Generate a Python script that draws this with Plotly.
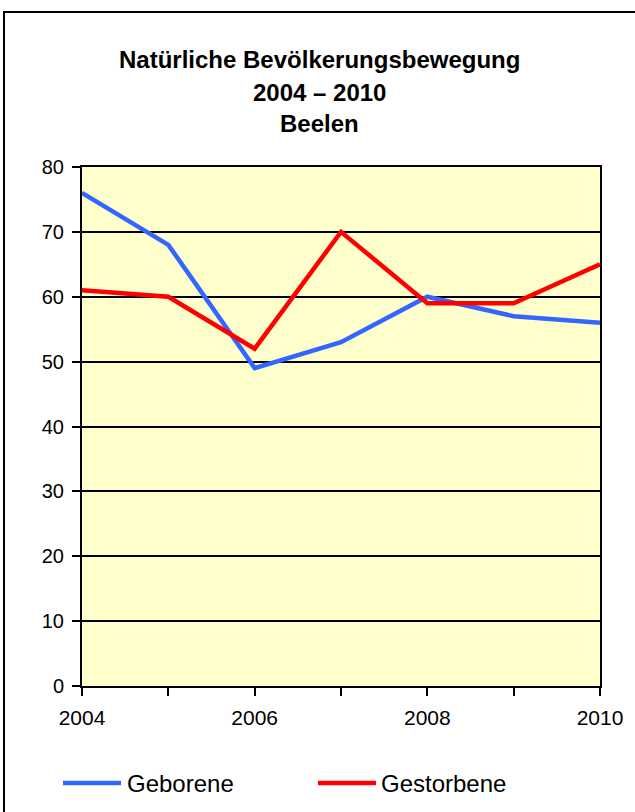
import plotly.graph_objects as go

years = [2004, 2005, 2006, 2007, 2008, 2009, 2010]
geborene = [76, 68, 49, 53, 60, 57, 56]
gestorbene = [61, 60, 52, 70, 59, 59, 65]
x_tick_labels = ["2004", "", "2006", "", "2008", "", "2010"]
y_ticks = [0, 10, 20, 30, 40, 50, 60, 70, 80]
series_names = ["Geborene", "Gestorbene"]
series_colors = ["#3366FF", "#FF0000"]

W, H = 635, 812
L, R, T, B = 82, 600, 167, 686  # plot area in pixels

def px(x):
    return (x - L) / (R - L)

def py(y):
    return (B - y) / (B - T)

fig = go.Figure()
for name, vals, col in zip(series_names, [geborene, gestorbene], series_colors):
    fig.add_trace(go.Scatter(x=years, y=vals, mode="lines", name=name,
                             line=dict(color=col, width=4.5), showlegend=False))

font = "Liberation Sans, Arial, sans-serif"

shapes = [
    # outer chart border
    dict(type="rect", xref="paper", yref="paper", x0=px(4), x1=px(645), y0=py(830), y1=py(12),
         line=dict(color="black", width=2), fillcolor="rgba(0,0,0,0)", layer="below"),
]
title_lines = ["<b>Natürliche Bevölkerungsbewegung</b>", "<b>2004 – 2010</b>", "<b>Beelen</b>"]
annotations = []
for txt, yy in zip(title_lines, [60, 92, 124]):
    annotations.append(dict(text=txt, x=px(319), y=py(yy), xref="paper", yref="paper",
                            showarrow=False, font=dict(family=font, size=24, color="black"),
                            xanchor="center", yanchor="middle"))
# custom legend
legend_pos = [(63, 121, 125), (318, 376, 379)]
for (x0, x1, xt), name, col in zip(legend_pos, series_names, series_colors):
    shapes.append(dict(type="line", xref="paper", yref="paper", x0=px(x0), x1=px(x1), y0=py(783), y1=py(783),
                       line=dict(color=col, width=4.5)))
    annotations.append(dict(text=name, x=px(xt), y=py(783), xref="paper", yref="paper", showarrow=False,
                            xanchor="left", yanchor="middle", font=dict(family=font, size=24, color="black")))

fig.update_layout(
    width=W, height=H,
    margin=dict(l=L, r=W - R, t=T, b=H - B, pad=0),
    paper_bgcolor="white",
    plot_bgcolor="#FFFFCC",
    shapes=shapes,
    annotations=annotations,
    font=dict(family=font, size=20, color="black"),
    hovermode=False,
    xaxis=dict(range=[2004, 2010], tickmode="array", tickvals=years, ticktext=x_tick_labels,
               showgrid=False, zeroline=False, showline=True, mirror=True, linecolor="black", linewidth=2,
               ticks="outside", ticklen=8, tickwidth=2, tickcolor="black",
               tickfont=dict(family=font, size=21, color="black"), ticklabelstandoff=4),
    yaxis=dict(range=[0, 80], tickmode="array", tickvals=y_ticks,
               showgrid=True, gridcolor="black", gridwidth=2, zeroline=False,
               showline=True, mirror=True, linecolor="black", linewidth=2,
               ticks="outside", ticklen=8, tickwidth=2, tickcolor="black",
               tickfont=dict(family=font, size=20, color="black"), ticklabelstandoff=4),
)

fig.write_html("out.html", config={"displayModeBar": False},
               post_script="document.body.style.margin='0';document.body.style.overflow='hidden';")
